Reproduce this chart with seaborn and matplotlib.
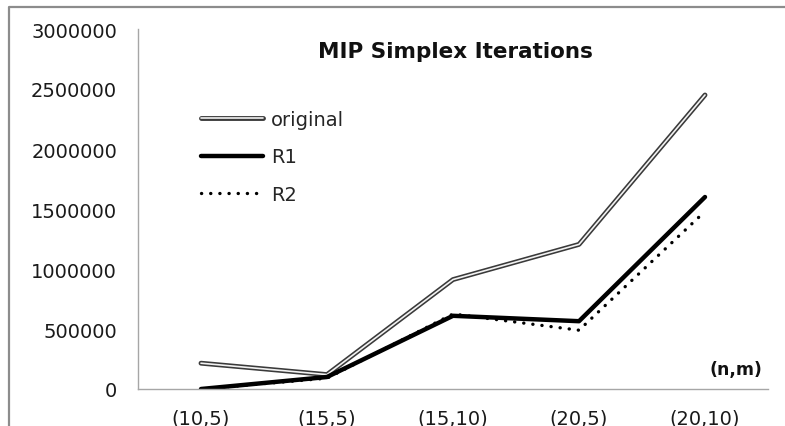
import matplotlib
matplotlib.use("Agg")
import matplotlib.pyplot as plt
import matplotlib.patheffects as pe
from matplotlib.lines import Line2D
import seaborn as sns
import pandas as pd

# Problem sizes (n,m) and MIP simplex iteration counts
categories = ["(10,5)", "(15,5)", "(15,10)", "(20,5)", "(20,10)"]
original = [215000, 120000, 912000, 1205000, 2450000]
r1 = [0, 100000, 610000, 565000, 1600000]
r2 = [0, 90000, 625000, 490000, 1480000]
y_ticks = [0, 500000, 1000000, 1500000, 2000000, 2500000, 3000000]

df = pd.DataFrame({"size": categories, "original": original, "R1": r1, "R2": r2})

sns.set_theme(style="white")
plt.rcParams["font.family"] = ["DejaVu Sans"]

fig = plt.figure(figsize=(7.85, 4.27), dpi=100)
ax = fig.add_axes([138 / 785, 1 - 390 / 427, 630 / 785, 360 / 427])

# original: double line (dark outline with a light core)
sns.lineplot(data=df, x="size", y="original", ax=ax, color="#f2f2f2", linewidth=1.2,
             sort=False, label="original",
             path_effects=[pe.Stroke(linewidth=3.5, foreground="#3a3a3a"), pe.Normal()],
             solid_capstyle="round")
sns.lineplot(data=df, x="size", y="R1", ax=ax, color="black", linewidth=3.2,
             sort=False, label="R1", solid_capstyle="round")
sns.lineplot(data=df, x="size", y="R2", ax=ax, color="black", linewidth=2.4,
             sort=False, label="R2", linestyle=(0, (0.05, 2.7)), dash_capstyle="round")

ax.set_xlim(-0.5, 4.5)
ax.set_ylim(0, 3000000)
ax.set_yticks(y_ticks)
ax.set_yticklabels([str(v) for v in y_ticks])
ax.set_xlabel("")
ax.set_ylabel("")
ax.tick_params(axis="both", length=0, labelsize=14, colors="#1a1a1a")
ax.tick_params(axis="y", pad=15)
ax.tick_params(axis="x", pad=14)
for side in ["top", "right"]:
    ax.spines[side].set_visible(False)
for side in ["left", "bottom"]:
    ax.spines[side].set_color("#a6a6a6")
    ax.spines[side].set_linewidth(1.0)
ax.grid(False)

leg = ax.legend(loc="upper left", bbox_to_anchor=(201 / 785, 1 - 111 / 427),
                bbox_transform=fig.transFigure, frameon=False, fontsize=14,
                handlelength=3.2, handletextpad=0.4, labelspacing=0.95,
                borderpad=0, borderaxespad=0)

fig.text(455 / 785, 1 - 52 / 427, "MIP Simplex Iterations", ha="center", va="center",
         fontsize=15.5, fontweight="bold", color="#111111")
fig.text(762 / 785, 1 - 370 / 427, "(n,m)", ha="right", va="center",
         fontsize=12.5, fontweight="bold", color="#111111")

# outer chart frame
fig.add_artist(Line2D([9 / 785, 9 / 785, 1.0], [0.0, 1 - 8 / 427, 1 - 8 / 427],
                      transform=fig.transFigure, color="#8c8c8c", linewidth=1.6))

fig.savefig("out.png", dpi=100)
